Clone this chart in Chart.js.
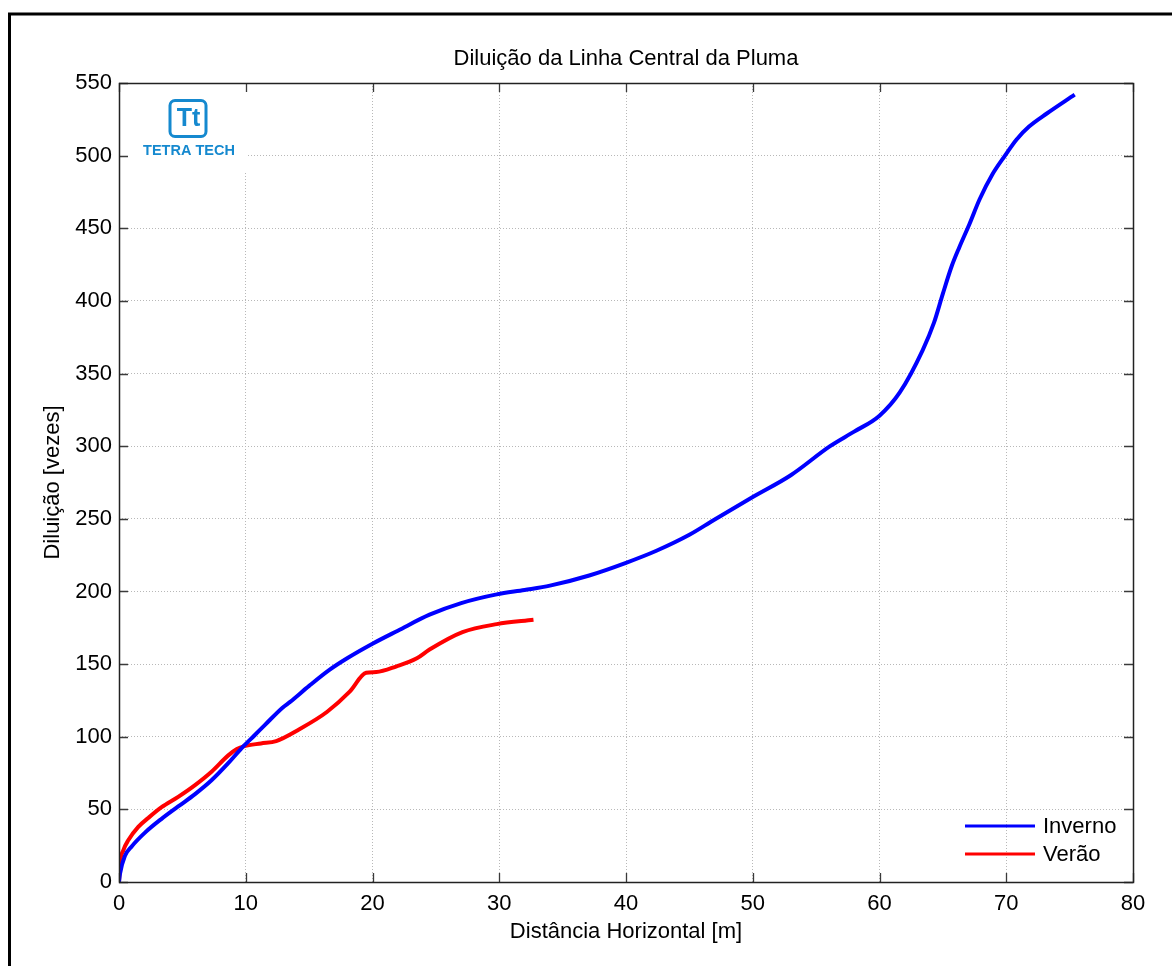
<!DOCTYPE html>
<html>
<head>
<meta charset="utf-8">
<script src="https://cdn.jsdelivr.net/npm/chart.js@4.4.1/dist/chart.umd.min.js"></script>
<style>
html,body{margin:0;padding:0;background:#fff;}
#wrap{width:1172px;height:966px;position:relative;}
</style>
</head>
<body>
<div id="wrap"><canvas id="c" width="1172" height="966"></canvas></div>
<script>
// ---- data ----
const chartTitle = 'Diluição da Linha Central da Pluma';
const xAxisTitle = 'Distância Horizontal [m]';
const yAxisTitle = 'Diluição [vezes]';
const xTicks = [0, 10, 20, 30, 40, 50, 60, 70, 80];
const yTicks = [0, 50, 100, 150, 200, 250, 300, 350, 400, 450, 500, 550];
const seriesNames = ['Inverno', 'Verão'];

const invernoX = [0, 0.08, 0.47, 1, 2.05, 3.36, 4.67, 6, 7.3, 8.6, 9.66, 10.7, 11.5, 12.9, 13.5, 15, 16.6, 18, 20, 22, 24.5, 27, 29.8, 32, 34, 37.1, 40, 42.4, 45, 46.9, 50, 53, 56.1, 58, 60, 61.6, 63.4, 64.3, 65, 65.7, 66.3, 67.1, 67.9, 68.9, 69.9, 70.8, 71.8, 73.2, 75.4];
const invernoY = [0, 5.7, 18, 24.5, 34, 43.5, 52, 60.5, 70, 81.6, 92, 101, 108, 120, 124, 135, 146, 154, 164, 173, 184, 192, 198, 201, 204, 211, 219.7, 228, 239, 249, 265, 280, 300, 310, 321, 337, 366, 385, 405, 424, 437, 453, 470, 487, 500, 511, 520, 529, 542];

const veraoX = [0, 0.08, 0.34, 0.73, 1.52, 2.3, 3.36, 4.67, 6, 7.3, 8.6, 9.3, 9.9, 11.2, 12.4, 14.2, 16.4, 18.2, 19.5, 20.3, 21.9, 23.5, 24.5, 27.1, 29.8, 32.7];
const veraoY = [0, 12.6, 21.8, 28.7, 37.9, 44, 51.5, 58.6, 66.7, 75.9, 87, 91.5, 93.5, 95.4, 97, 105, 117, 131, 144, 144.5, 148.5, 154, 160, 172, 177.5, 180.5];

const FONT = '"Liberation Sans", Arial, Helvetica, sans-serif';
const LOGO_BLUE = '#1589cf';

function pts(xs, ys) { return xs.map((x, i) => ({x: x, y: ys[i]})); }

const decor = {
  id: 'decor',
  beforeDatasetsDraw(chart) {
    const ctx = chart.ctx, a = chart.chartArea;
    // white box behind logo
    ctx.save();
    ctx.fillStyle = '#fff';
    ctx.fillRect(a.left + 1, a.top + 1, 247 - a.left, 170 - a.top);
    ctx.restore();
  },
  afterDraw(chart) {
    const ctx = chart.ctx, a = chart.chartArea;
    const xs = chart.scales.x, ys = chart.scales.y;
    ctx.save();
    // inward ticks
    ctx.strokeStyle = '#3a3a3a';
    ctx.lineWidth = 1.3;
    const tl = 9;
    ctx.beginPath();
    xTicks.forEach(v => {
      const p = Math.round(xs.getPixelForValue(v)) + 0.5;
      ctx.moveTo(p, a.bottom); ctx.lineTo(p, a.bottom - tl);
      ctx.moveTo(p, a.top); ctx.lineTo(p, a.top + tl);
    });
    yTicks.forEach(v => {
      const p = Math.round(ys.getPixelForValue(v)) + 0.5;
      ctx.moveTo(a.left, p); ctx.lineTo(a.left + tl, p);
      ctx.moveTo(a.right, p); ctx.lineTo(a.right - tl, p);
    });
    ctx.stroke();
    // plot frame
    ctx.strokeStyle = '#222';
    ctx.lineWidth = 1.5;
    ctx.strokeRect(a.left + 0.5, a.top + 0.5, a.right - a.left, a.bottom - a.top);

    // titles
    ctx.fillStyle = '#000';
    ctx.font = '22px ' + FONT;
    ctx.textAlign = 'center';
    ctx.textBaseline = 'middle';
    ctx.fillText(chartTitle, (a.left + a.right) / 2, 59);
    ctx.fillText(xAxisTitle, (a.left + a.right) / 2, 932);
    ctx.save();
    ctx.translate(53, (a.top + a.bottom) / 2);
    ctx.rotate(-Math.PI / 2);
    ctx.fillText(yAxisTitle, 0, 0);
    ctx.restore();

    // legend
    const lx0 = 965, lx1 = 1035;
    const ly = [826, 854];
    chart.data.datasets.forEach((ds, i) => {
      ctx.strokeStyle = ds.borderColor;
      ctx.lineWidth = 3;
      ctx.beginPath();
      ctx.moveTo(lx0, ly[i]); ctx.lineTo(lx1, ly[i]);
      ctx.stroke();
      ctx.fillStyle = '#000';
      ctx.textAlign = 'left';
      ctx.textBaseline = 'middle';
      ctx.font = '22px ' + FONT;
      ctx.fillText(ds.label, 1043, ly[i] + 1);
    });

    // logo
    ctx.strokeStyle = LOGO_BLUE;
    ctx.lineWidth = 3;
    ctx.beginPath();
    if (ctx.roundRect) ctx.roundRect(170, 100.5, 36, 36, 5); else ctx.rect(170, 100.5, 36, 36);
    ctx.stroke();
    ctx.fillStyle = LOGO_BLUE;
    ctx.font = 'bold 25px ' + FONT;
    ctx.textAlign = 'center';
    ctx.textBaseline = 'middle';
    ctx.fillText('Tt', 188.5, 119.5);
    ctx.font = 'bold 14.5px ' + FONT;
    ctx.fillText('TETRA TECH', 189, 150.5);

    // figure frame
    ctx.strokeStyle = '#000';
    ctx.lineWidth = 3;
    ctx.strokeRect(9.5, 14, 1300, 1100);
    ctx.restore();
  }
};

new Chart(document.getElementById('c'), {
  type: 'scatter',
  data: {
    datasets: [
      {
        label: seriesNames[0],
        data: pts(invernoX, invernoY),
        showLine: true,
        borderColor: '#0000ff',
        backgroundColor: '#0000ff',
        borderWidth: 4,
        pointRadius: 0,
        cubicInterpolationMode: 'monotone',
        tension: 0.4
      },
      {
        label: seriesNames[1],
        data: pts(veraoX, veraoY),
        showLine: true,
        borderColor: '#ff0000',
        backgroundColor: '#ff0000',
        borderWidth: 4,
        pointRadius: 0,
        cubicInterpolationMode: 'monotone',
        tension: 0.4
      }
    ]
  },
  options: {
    responsive: false,
    animation: false,
    layout: { padding: { left: 0, top: 83, right: 39, bottom: 0 } },
    plugins: {
      legend: { display: false },
      title: { display: false },
      tooltip: { enabled: false }
    },
    scales: {
      x: {
        type: 'linear',
        min: 0, max: 80,
        afterFit(s) { s.height = 84; },
        afterBuildTicks(s) { s.ticks = xTicks.map(v => ({value: v})); },
        border: { display: false, dash: [1, 2] },
        grid: { color: '#b8b8b8', lineWidth: 1, drawTicks: false },
        ticks: { color: '#000', font: { family: FONT, size: 22 }, padding: 9, maxRotation: 0 }
      },
      y: {
        type: 'linear',
        min: 0, max: 550,
        afterFit(s) { s.width = 119; },
        afterBuildTicks(s) { s.ticks = yTicks.map(v => ({value: v})); },
        border: { display: false, dash: [1, 2] },
        grid: { color: '#b8b8b8', lineWidth: 1, drawTicks: false },
        ticks: { color: '#000', font: { family: FONT, size: 22 }, padding: 7 }
      }
    }
  },
  plugins: [decor]
});
</script>
</body>
</html>
